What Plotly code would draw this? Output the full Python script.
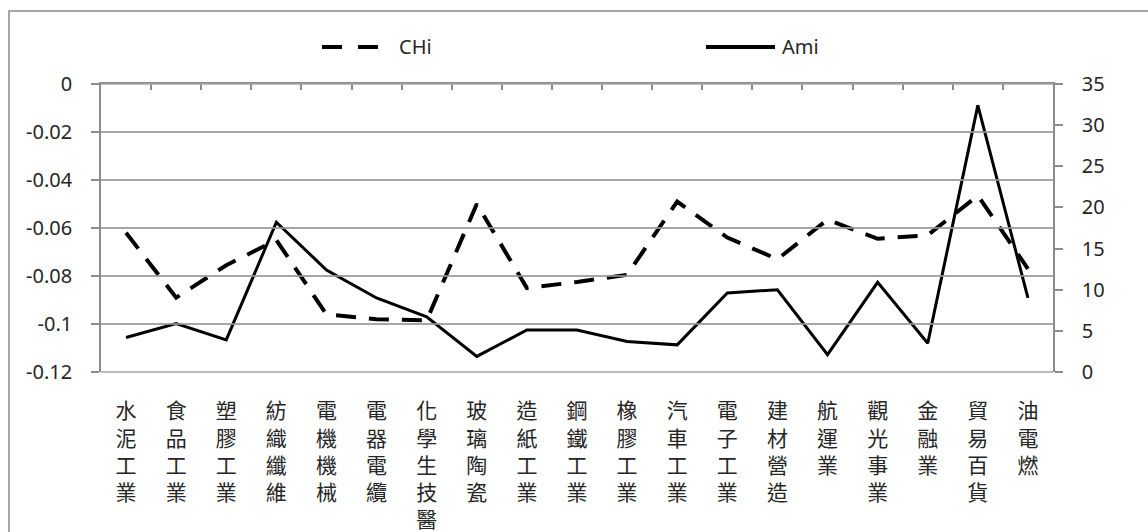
import plotly.graph_objects as go

# Industry categories (one vertical label per industry)
industries = ["水泥工業", "食品工業", "塑膠工業", "紡織纖維", "電機機械", "電器電纜",
              "化學生技醫", "玻璃陶瓷", "造紙工業", "鋼鐵工業", "橡膠工業", "汽車工業",
              "電子工業", "建材營造", "航運業", "觀光事業", "金融業", "貿易百貨", "油電燃"]

# CHi values (left axis)
chi = [-0.062, -0.089, -0.0755, -0.065, -0.096, -0.098, -0.0985, -0.050, -0.085, -0.0825,
       -0.0795, -0.049, -0.064, -0.073, -0.0565, -0.0645, -0.063, -0.0465, -0.077]

# Ami values (right axis)
ami = [4.2, 5.9, 3.9, 18.2, 12.4, 9.0, 6.7, 1.9, 5.1, 5.1,
       3.7, 3.3, 9.6, 10.0, 2.1, 10.9, 3.5, 32.4, 9.0]

left_range = [-0.12, 0]
left_ticks = [0, -0.02, -0.04, -0.06, -0.08, -0.1, -0.12]
left_tick_text = ["0", "-0.02", "-0.04", "-0.06", "-0.08", "-0.1", "-0.12"]
right_ticks = [0, 5, 10, 15, 20, 25, 30, 35]
right_tick_text = ["0", "5", "10", "15", "20", "25", "30", "35"]

vertical_labels = ["<br>".join(list(name)) for name in industries]
GAP = "\u2007\u2009"  # spacing between tick marks and numbers

W, H = 1148, 532
ML, MR, MT, MB = 101, 95, 84, 160
PW, PH = W - ML - MR, H - MT - MB

def px_x(px):
    return (px - ML) / PW

def px_y(py):
    return (H - MB - py) / PH

NUM_FONT = dict(family="Noto Sans, Open Sans, sans-serif", size=20, color="#262626")
CJK_FONT = dict(family="Noto Sans CJK TC, Noto Sans CJK SC, sans-serif", size=21, color="#262626")
AXIS_GRAY = "#8c8c8c"
GRID_GRAY = "#a6a6a6"

fig = go.Figure()

fig.add_trace(go.Scatter(
    x=industries, y=chi, name="CHi", mode="lines",
    line=dict(color="black", width=4, dash="20px,13px"),
    xaxis="x", yaxis="y", showlegend=False,
))
fig.add_trace(go.Scatter(
    x=industries, y=ami, name="Ami", mode="lines",
    line=dict(color="black", width=3),
    xaxis="x", yaxis="y2", showlegend=False,
))
# carrier for the top category axis (draws nothing)
fig.add_trace(go.Scatter(
    x=industries, y=chi, mode="lines", line=dict(width=0), opacity=0,
    xaxis="x2", yaxis="y", showlegend=False, hoverinfo="skip",
))

# Horizontal gridlines at the left-axis tick values (mapped onto the plot height)
lo, hi = left_range
shapes = [
    dict(type="line", xref="paper", yref="paper", x0=0, x1=1,
         y0=(v - lo) / (hi - lo), y1=(v - lo) / (hi - lo),
         line=dict(color=GRID_GRAY, width=1.5), layer="above")
    for v in left_ticks
]

# Legend drawn as sample strokes plus text above the plot area
legend_y = px_y(47)
shapes += [
    dict(type="line", xref="paper", yref="paper",
         x0=px_x(322), x1=px_x(392), y0=legend_y, y1=legend_y,
         line=dict(color="black", width=4, dash="20px,16px")),
    dict(type="line", xref="paper", yref="paper",
         x0=px_x(706), x1=px_x(775), y0=legend_y, y1=legend_y,
         line=dict(color="black", width=4)),
    # chart frame
    dict(type="rect", xref="paper", yref="paper",
         x0=px_x(9), x1=px_x(1160), y0=px_y(545), y1=px_y(11),
         line=dict(color="#8a8a8a", width=1.5), layer="above"),
]
annotations = [
    dict(xref="paper", yref="paper", x=px_x(397), y=legend_y, text="CHi",
         showarrow=False, xanchor="left", yanchor="middle", font=NUM_FONT),
    dict(xref="paper", yref="paper", x=px_x(780), y=legend_y, text="Ami",
         showarrow=False, xanchor="left", yanchor="middle", font=NUM_FONT),
]

fig.update_layout(
    width=W, height=H,
    margin=dict(l=ML, r=MR, t=MT, b=MB, pad=0),
    paper_bgcolor="white", plot_bgcolor="white",
    shapes=shapes, annotations=annotations,
    xaxis=dict(
        type="category", range=[-0.5, len(industries) - 0.5],
        tickmode="array", tickvals=industries, ticktext=vertical_labels,
        tickfont=CJK_FONT, tickangle=0, ticks="outside", ticklen=20,
        tickcolor="rgba(0,0,0,0)", showline=False,
        showgrid=False, zeroline=False, automargin=False,
    ),
    xaxis2=dict(
        type="category", overlaying="x", side="top", anchor="y",
        range=[-0.5, len(industries) - 0.5], tickson="boundaries",
        ticks="inside", ticklen=6, tickcolor=AXIS_GRAY, tickwidth=1.5,
        showline=True, linecolor=AXIS_GRAY, linewidth=2,
        showticklabels=False, showgrid=False, zeroline=False, automargin=False,
    ),
    yaxis=dict(
        range=left_range, tickmode="array", tickvals=left_ticks,
        ticktext=[t + GAP for t in left_tick_text],
        tickfont=NUM_FONT, ticks="outside", ticklen=8, tickcolor=AXIS_GRAY, tickwidth=1.5,
        showline=True, linecolor=AXIS_GRAY, linewidth=2,
        showgrid=True, gridcolor=GRID_GRAY, gridwidth=1.5, zeroline=False,
        automargin=False,
    ),
    yaxis2=dict(
        range=[0, 35], tickmode="array", tickvals=right_ticks,
        ticktext=[GAP + t for t in right_tick_text],
        overlaying="y", side="right", anchor="x",
        tickfont=NUM_FONT, ticks="outside", ticklen=8, tickcolor=AXIS_GRAY, tickwidth=1.5,
        showline=True, linecolor=AXIS_GRAY, linewidth=2,
        showgrid=False, zeroline=False, automargin=False,
    ),
)

fig.write_html("out.html")
